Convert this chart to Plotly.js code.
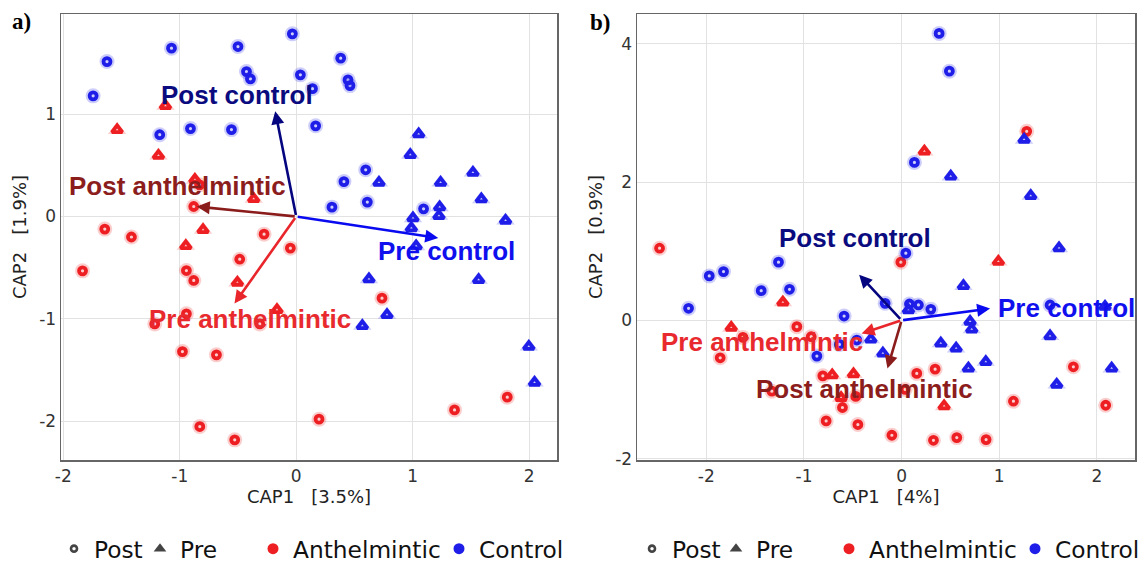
<!DOCTYPE html>
<html><head><meta charset="utf-8">
<script src="https://cdn.plot.ly/plotly-3.0.1.min.js"></script>
<style>html,body{margin:0;padding:0;background:#fff}#chart{width:1144px;height:564px}</style>
</head><body><div id="chart"></div>
<script>
// ---------- Panel a data ----------
const postControlAX = [-1.625,-1.744,-1.071,-0.5,-0.427,-0.393,-0.033,0.036,-1.172,-0.908,-0.556,0.382,0.445,0.462,0.14,0.167,0.597,0.41,0.611,0.307,1.094];
const postControlAY = [1.515,1.18,1.646,1.662,1.417,1.346,1.786,1.385,0.80,0.86,0.85,1.548,1.336,1.28,1.25,0.887,0.457,0.342,0.141,0.092,0.075];
const preControlAX = [1.052,0.98,0.711,1.24,1.518,1.59,1.232,1.226,1.003,0.989,1.798,1.03,0.625,1.567,0.78,0.568,1.998,2.047];
const preControlAY = [0.805,0.603,0.332,0.332,0.43,0.17,0.092,0.007,-0.016,-0.113,-0.039,-0.29,-0.612,-0.619,-0.961,-1.068,-1.271,-1.623];
const preAnthAX = [-1.123,-1.538,-1.183,-0.87,-0.365,-0.80,-0.948,-0.505,-0.165];
const preAnthAY = [1.082,0.847,0.596,0.36,0.173,-0.13,-0.286,-0.645,-0.912];
const postAnthAX = [-0.83,-0.88,-1.644,-1.415,-0.276,-0.05,-1.835,-0.943,-0.88,-0.485,-0.943,-1.215,-0.313,-0.977,-0.685,-0.828,-0.528,0.737,1.813,1.36,0.196];
const postAnthAY = [0.31,0.098,-0.123,-0.2,-0.172,-0.309,-0.531,-0.528,-0.625,-0.417,-0.951,-1.05,-1.05,-1.32,-1.352,-2.053,-2.183,-0.798,-1.766,-1.89,-1.981];

// ---------- Panel b data ----------
const postControlBX = [0.384,0.489,0.131,-1.261,-1.824,-1.97,-1.438,-1.148,-2.182,-0.589,-0.459,-0.637,-0.868,0.043,-0.169,0.08,0.172,0.299,1.52];
const postControlBY = [4.149,3.603,2.284,0.841,0.705,0.642,0.429,0.449,0.174,0.062,-0.285,-0.348,-0.517,0.971,0.246,0.236,0.222,0.159,0.222];
const preControlBX = [1.254,0.503,1.322,1.612,0.633,0.07,2.083,0.701,0.718,1.52,-0.315,0.401,0.558,-0.192,0.862,0.684,2.151,1.588];
const preControlBY = [2.613,2.081,1.80,1.043,0.497,0.149,0.197,-0.02,-0.13,-0.228,-0.275,-0.333,-0.406,-0.478,-0.6,-0.696,-0.696,-0.928];
const preAnthBX = [0.233,-1.216,-1.745,-0.711,-0.493,-0.62,0.991,0.435];
const preAnthBY = [2.443,0.261,-0.107,-0.793,-0.778,-1.12,0.849,-1.242];
const postAnthBX = [1.281,-2.479,-1.073,-1.625,-0.926,-1.858,-0.807,-1.329,-0.47,-0.606,-0.773,-0.448,-0.008,1.759,0.155,0.343,1.145,2.09,-0.1,0.326,0.565,0.865,0.036];
const postAnthBY = [2.733,1.043,-0.092,-0.247,-0.237,-0.542,-0.803,-1.025,-1.1,-1.261,-1.455,-1.507,0.841,-0.672,-0.768,-0.706,-1.17,-1.228,-1.662,-1.735,-1.696,-1.725,-1.0];

// ---------- Biplot vectors ----------
const arrowNames = ['Post control','Pre control','Post anthelmintic','Pre anthelmintic'];
const arrowXA = [-0.18, 1.22, -0.854, -0.53];
const arrowYA = [1.03, -0.21, 0.098, -0.85];
const arrowXB = [-0.435, 0.906, -0.145, -0.41];
const arrowYB = [0.66, 0.17, -0.696, -0.19];

// ---------- Axis text ----------
const tickValsX = [-2,-1,0,1,2];
const tickTextX = ['-2','-1','0','1','2'];
const tickValsYA = [-2,-1,0,1];
const tickTextYA = ['-2','-1','0','1'];
const tickValsYB = [-2,0,2,4];
const tickTextYB = ['-2','0','2','4'];
const xTitleA = 'CAP1\u00a0\u00a0\u00a0[3.5%]', yTitleA = 'CAP2\u00a0\u00a0\u00a0[1.9%]';
const xTitleB = 'CAP1\u00a0\u00a0\u00a0[4%]', yTitleB = 'CAP2\u00a0\u00a0\u00a0[0.9%]';
const legendLabels = ['Post','Pre','Anthelmintic','Control'];

// ---------- Styles ----------
const RED = '#ee1f22', BLUE = '#1e1ee8';
const arrowColors = ['#050580','#0a0af0','#8b1c1c','#e8262b'];
const labelColors = ['#0b0b80','#1010ee','#8c1d1d','#e82a2e'];
const labelOffA = [[-38,16],[8,-13],[-19,21],[16,-16]];
const labelOffB = [[-4,37],[76,1],[-23,-21],[-100,-9]];

function groupTraces(xs, ys, color, kind, xa, ya) {
  const sym = kind === 'post' ? 'circle' : 'triangle-up';
  return [
    {type:'scatter', mode:'markers', x:xs, y:ys, xaxis:xa, yaxis:ya, showlegend:false, hoverinfo:'skip',
     marker:{symbol:sym, size: kind==='post'?15:16, color:color, opacity:0.22, line:{width:0}}},
    {type:'scatter', mode:'markers', x:xs, y:ys, xaxis:xa, yaxis:ya, showlegend:false,
     marker:{symbol:sym+'-open', size: kind==='post'?7:9, color:color, line:{width:3.8, color:color}}}
  ];
}

let traces = [];
traces = traces.concat(groupTraces(postAnthAX, postAnthAY, RED, 'post', 'x', 'y'));
traces = traces.concat(groupTraces(preAnthAX, preAnthAY, RED, 'pre', 'x', 'y'));
traces = traces.concat(groupTraces(postControlAX, postControlAY, BLUE, 'post', 'x', 'y'));
traces = traces.concat(groupTraces(preControlAX, preControlAY, BLUE, 'pre', 'x', 'y'));
traces = traces.concat(groupTraces(postAnthBX, postAnthBY, RED, 'post', 'x2', 'y2'));
traces = traces.concat(groupTraces(preAnthBX, preAnthBY, RED, 'pre', 'x2', 'y2'));
traces = traces.concat(groupTraces(postControlBX, postControlBY, BLUE, 'post', 'x2', 'y2'));
traces = traces.concat(groupTraces(preControlBX, preControlBY, BLUE, 'pre', 'x2', 'y2'));

// legend-only traces
const legendMarkers = [
  {symbol:'circle-open', size:6, color:'#444', line:{width:2.6, color:'#444'}},
  {symbol:'triangle-up', size:11, color:'#444'},
  {symbol:'circle', size:11, color:RED},
  {symbol:'circle', size:11, color:BLUE}
];
const legendPixA = [74,160,273,459];
const legendPixB = [652,736,849,1035];
const L = 61, PW = 1074, T = 14, PH = 446;
const legendLayouts = {};
for (let p = 0; p < 2; p++) {
  for (let i = 0; i < 4; i++) {
    const n = p*4 + i + 1;
    const key = n === 1 ? 'legend' : 'legend' + n;
    traces.push({type:'scatter', mode:'markers', x:[null], y:[null], xaxis: p ? 'x2' : 'x', yaxis: p ? 'y2' : 'y',
      name: legendLabels[i], legend: key, showlegend:true, marker: legendMarkers[i]});
    const px = (p ? legendPixB : legendPixA)[i];
    legendLayouts[key] = {x: (px - 20 - L) / PW, xanchor:'left', y: (460 - 549) / PH, yanchor:'middle',
      orientation:'h', bgcolor:'rgba(0,0,0,0)', borderwidth:0,
      font:{family:'DejaVu Sans', size:23.3, color:'#111'}};
  }
}

const annotations = [];
function addArrows(xs, ys, offs, xr, yr) {
  for (let i = 0; i < xs.length; i++) {
    annotations.push({x:xs[i], y:ys[i], ax:0, ay:0, xref:xr, yref:yr, axref:xr, ayref:yr,
      showarrow:true, arrowhead:2, arrowsize:1, arrowwidth:2.6, arrowcolor:arrowColors[i], text:'', standoff:0});
  }
  for (let i = 0; i < xs.length; i++) {
    annotations.push({x:xs[i], y:ys[i], xref:xr, yref:yr, showarrow:false, text:arrowNames[i],
      xshift:offs[i][0], yshift:offs[i][1], xanchor:'center', yanchor:'middle',
      font:{family:'Liberation Sans, Arial, sans-serif', size:26, color:labelColors[i], weight:'bold'}});
  }
}
addArrows(arrowXA, arrowYA, labelOffA, 'x', 'y');
addArrows(arrowXB, arrowYB, labelOffB, 'x2', 'y2');
annotations.push({xref:'paper', yref:'paper', x:(22 - L)/PW, y:(460 - 21)/PH, text:'<b>a)</b>', showarrow:false,
  xanchor:'center', yanchor:'middle', font:{family:'Liberation Serif, Times New Roman, serif', size:23, color:'#000'}});
annotations.push({xref:'paper', yref:'paper', x:(600 - L)/PW, y:(460 - 22)/PH, text:'<b>b)</b>', showarrow:false,
  xanchor:'center', yanchor:'middle', font:{family:'Liberation Serif, Times New Roman, serif', size:23, color:'#000'}});

const tickFont = {family:'DejaVu Sans', size:17, color:'#333'};
const titleFont = {family:'DejaVu Sans', size:18, color:'#222'};
function axis(extra) {
  return Object.assign({showgrid:true, gridcolor:'#e2e2e2', gridwidth:1, zeroline:false, showline:true, mirror:true,
    linecolor:'#666', linewidth:1.5, ticks:'', tickfont:tickFont, tickmode:'array', automargin:false}, extra);
}

const layout = {
  width:1144, height:564,
  margin:{l:L, r:9, t:T, b:104, autoexpand:false},
  paper_bgcolor:'#fff', plot_bgcolor:'#fff',
  showlegend:true,
  xaxis: axis({domain:[0, 496/PW], range:[-2.02, 2.24], tickvals:tickValsX, ticktext:tickTextX, anchor:'y',
    title:{text:xTitleA, font:titleFont, standoff:0}}),
  yaxis: axis({domain:[0,1], range:[-2.38, 1.98], tickvals:tickValsYA, ticktext:tickTextYA, anchor:'x',
    title:{text:yTitleA, font:titleFont, standoff:8}}),
  xaxis2: axis({domain:[576/PW, 1], range:[-2.71, 2.39], tickvals:tickValsX, ticktext:tickTextX, anchor:'y2',
    title:{text:xTitleB, font:titleFont, standoff:0}}),
  yaxis2: axis({domain:[0,1], range:[-2.02, 4.43], tickvals:tickValsYB, ticktext:tickTextYB, anchor:'x2',
    title:{text:yTitleB, font:titleFont, standoff:8}}),
  annotations: annotations
};
Object.assign(layout, legendLayouts);

Plotly.newPlot('chart', traces, layout, {displayModeBar:false, staticPlot:true});
</script></body></html>
